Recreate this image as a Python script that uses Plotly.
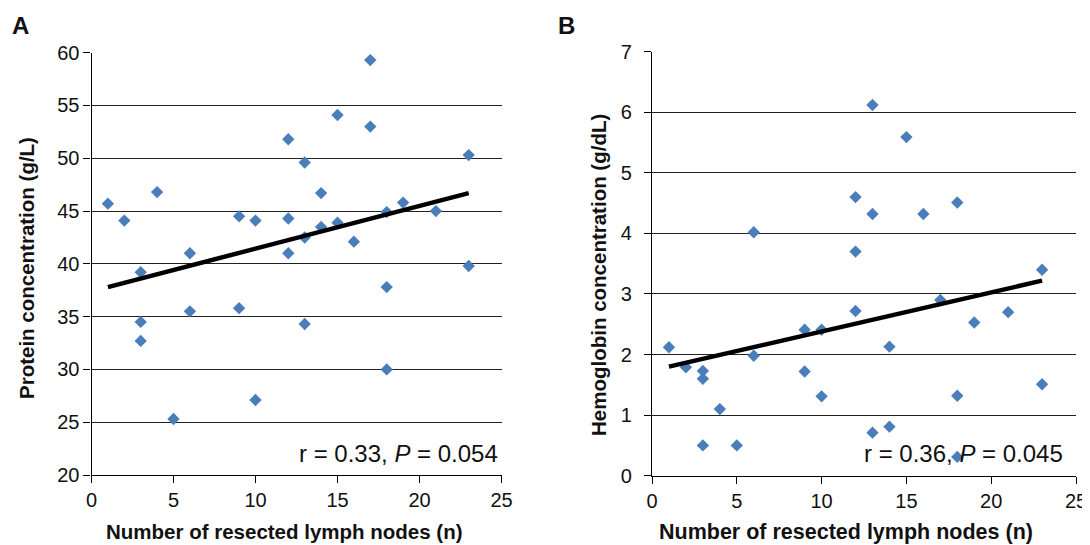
import plotly.graph_objects as go

# Panel A: protein concentration vs resected lymph nodes
nodes_a = [1, 2, 3, 3, 3, 4, 5, 6, 6, 9, 9, 10, 10, 12, 12, 12, 13, 13, 13,
           14, 14, 15, 15, 16, 17, 17, 18, 18, 18, 19, 21, 23, 23]
protein = [45.7, 44.1, 39.2, 34.5, 32.7, 46.8, 25.3, 41.0, 35.5, 44.5, 35.8,
           44.1, 27.1, 51.8, 44.3, 41.0, 49.6, 42.5, 34.3, 46.7, 43.5, 54.1,
           43.9, 42.1, 59.3, 53.0, 44.9, 37.8, 30.0, 45.8, 45.0, 50.3, 39.8]
trend_a_x = [1, 23]
trend_a_y = [37.8, 46.7]

# Panel B: hemoglobin concentration vs resected lymph nodes
nodes_b = [1, 2, 3, 3, 3, 4, 5, 6, 6, 9, 9, 10, 10, 12, 12, 12, 13, 13, 13,
           14, 14, 15, 16, 17, 18, 18, 18, 19, 21, 23, 23]
hemoglobin = [2.12, 1.79, 1.73, 1.60, 0.50, 1.10, 0.50, 4.02, 1.98, 2.41, 1.72,
              2.41, 1.31, 4.60, 3.70, 2.72, 6.12, 4.32, 0.71, 2.13, 0.81, 5.59,
              4.32, 2.90, 4.51, 1.32, 0.31, 2.53, 2.70, 3.40, 1.51]
trend_b_x = [1, 23]
trend_b_y = [1.80, 3.22]

xticks = [0, 5, 10, 15, 20, 25]
yticks_a = [20, 25, 30, 35, 40, 45, 50, 55, 60]
yticks_b = [0, 1, 2, 3, 4, 5, 6, 7]

OFF = 8            # page body margin
W, H = 1090 - OFF, 545 - OFF
FONT = "Liberation Sans, Arial, sans-serif"
MARK = "#4A7EBB"


def px(x):
    return (x - OFF) / W


def py(y):
    return 1 - (y - OFF) / H


fig = go.Figure()
fig.add_trace(go.Scatter(x=nodes_a, y=protein, mode="markers",
                         marker=dict(symbol="diamond", size=9.5, color=MARK),
                         xaxis="x", yaxis="y", showlegend=False))
fig.add_trace(go.Scatter(x=trend_a_x, y=trend_a_y, mode="lines",
                         line=dict(color="black", width=4.5),
                         xaxis="x", yaxis="y", showlegend=False))
fig.add_trace(go.Scatter(x=nodes_b, y=hemoglobin, mode="markers",
                         marker=dict(symbol="diamond", size=9.5, color=MARK),
                         xaxis="x2", yaxis="y2", showlegend=False))
fig.add_trace(go.Scatter(x=trend_b_x, y=trend_b_y, mode="lines",
                         line=dict(color="black", width=4.5),
                         xaxis="x2", yaxis="y2", showlegend=False))

xax = dict(range=[0, 25], tickvals=xticks, showgrid=False, zeroline=False,
           showline=True, linecolor="black", linewidth=1.2, automargin=False,
           ticks="outside", ticklen=7, tickcolor="black", tickwidth=1.2,
           tickfont=dict(family=FONT, size=20, color="#111"))
yax = dict(showgrid=True, gridcolor="#222", gridwidth=1.3, zeroline=False,
           showline=True, linecolor="black", linewidth=1.2, automargin=False,
           ticks="outside", ticklen=7, tickcolor="black", tickwidth=1.2,
           tickfont=dict(family=FONT, size=20, color="#111"))

fig.update_layout(
    width=W, height=H, autosize=False,
    margin=dict(l=0, r=0, t=0, b=0, pad=0, autoexpand=False),
    paper_bgcolor="white", plot_bgcolor="white",
    font=dict(family=FONT, color="#111"),
    xaxis=dict(xax, domain=[px(91.5), px(501.5)], anchor="y"),
    yaxis=dict(yax, domain=[py(475), py(52.7)], range=[20, 60],
               tickvals=yticks_a, anchor="x"),
    xaxis2=dict(xax, domain=[px(652), px(1076)], anchor="y2"),
    yaxis2=dict(yax, domain=[py(475.7), py(51.7)], range=[0, 7],
                tickvals=yticks_b, anchor="x2", ticklabelstandoff=8),
)

ann = [
    dict(text="<b>A</b>", x=px(10), y=py(25), xanchor="left", yanchor="middle",
         font=dict(size=24)),
    dict(text="<b>B</b>", x=px(556), y=py(25), xanchor="left", yanchor="middle",
         font=dict(size=24)),
    dict(text="<b>Number of resected lymph nodes (n)</b>", x=px(284), y=py(531),
         xanchor="center", yanchor="middle", font=dict(size=20.5)),
    dict(text="<b>Number of resected lymph nodes (n)</b>", x=px(846), y=py(532),
         xanchor="center", yanchor="middle", font=dict(size=21.5)),
    dict(text="<b>Protein concentration (g/L)</b>", x=px(27), y=py(268),
         xanchor="center", yanchor="middle", textangle=-90, font=dict(size=20.5)),
    dict(text="<b>Hemoglobin concentration (g/dL)</b>", x=px(598), y=py(275),
         xanchor="center", yanchor="middle", textangle=-90, font=dict(size=20.5)),
    dict(text="r = 0.33, <i>P</i> = 0.054", x=px(500), y=py(453),
         xanchor="right", yanchor="middle", font=dict(size=24)),
    dict(text="r = 0.36, <i>P</i> = 0.045", x=px(1065), y=py(453),
         xanchor="right", yanchor="middle", font=dict(size=24)),
]
for a in ann:
    a.update(xref="paper", yref="paper", showarrow=False)
    a["font"] = dict(family=FONT, color="#111", **a["font"])
fig.update_layout(annotations=ann)

fig.write_html("out.html")
